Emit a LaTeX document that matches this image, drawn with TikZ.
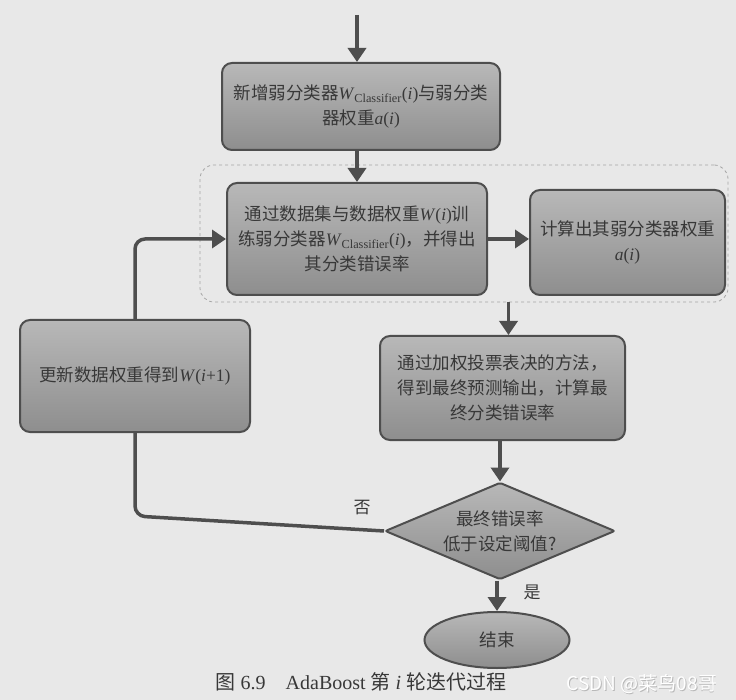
\documentclass[tikz,border=0pt]{standalone}
\usepackage{fontspec}
\setmainfont{Liberation Serif}
\newfontfamily\cjk{Noto Sans CJK SC}
\newfontfamily\wmfont{Noto Sans CJK SC}
\usetikzlibrary{shapes.geometric,arrows.meta}
\definecolor{bg}{HTML}{E8E8E8}
\definecolor{boxtop}{HTML}{B8B8B8}
\definecolor{boxbot}{HTML}{8E8E8E}
\definecolor{edge}{HTML}{4E4E4E}
\definecolor{txt}{HTML}{383838}
\newcommand{\lat}[1]{{\rmfamily #1}}
\newcommand{\Wcl}{\lat{\textit{W}\textsubscript{Classifier}(\textit{i})}}
\tikzset{
  flowbox/.style={draw=edge, line width=2pt, rounded corners=10pt,
    top color=boxtop, bottom color=boxbot, text=txt, align=center,
    inner sep=0pt, font=\cjk\fontsize{17.5}{25}\selectfont},
  flowarrow/.style={draw=edge, line width=3.5pt,
    -{Triangle[length=14pt,width=18pt]}},
  grpbox/.style={draw=gray!70, dashed, line width=0.8pt, rounded corners=14pt,
    minimum width=528pt, minimum height=137pt, inner sep=0pt},
  lbl/.style={text=txt, font=\cjk\fontsize{17}{20}\selectfont}
}
\begin{document}
\begin{tikzpicture}[x=1pt,y=-1pt]
\fill[bg] (0,0) rectangle (736,700);
\useasboundingbox (0,0) rectangle (736,700);

\node[grpbox] (grp) at (464,233.5) {};

\node[flowbox, minimum width=278pt, minimum height=87pt] (b1) at (361,106.5)
  {新增弱分类器\Wcl{}与弱分类\\器权重\lat{\textit{a}(\textit{i})}};
\node[flowbox, minimum width=260pt, minimum height=112pt] (b2) at (357,239)
  {通过数据集与数据权重\lat{\textit{W}(\textit{i})}训\\练弱分类器\Wcl，并得出\\其分类错误率};
\node[flowbox, minimum width=195pt, minimum height=105pt] (b3) at (627.5,242.5)
  {计算出其弱分类器权重\\\lat{\textit{a}(\textit{i})}};
\node[flowbox, minimum width=245pt, minimum height=104pt] (b4) at (502.5,388)
  {通过加权投票表决的方法，\\得到最终预测输出，计算最\\终分类错误率};
\node[flowbox, shape=diamond, rounded corners=2pt, aspect=2.37,
  minimum width=230pt, minimum height=97pt] (dec) at (500,531)
  {最终错误率\\低于设定阈值?};
\node[flowbox, shape=ellipse, minimum width=145pt, minimum height=56pt] (end) at (497,640)
  {结束};

\coordinate (start) at (357,15);
\coordinate (c1) at (135,516);

\draw[flowarrow] (start) -- (start |- b1.north);
\draw[flowarrow] (b2.north |- b1.south) -- (b2.north);
\draw[flowarrow] (b2.east) -- (b2.east -| b3.west);
\draw[flowarrow] ([xshift=6pt]grp.south -| b4.north) -- ([xshift=6pt]b4.north);
\draw[flowarrow] (b4.south -| dec.north) -- (dec.north);
\draw[flowarrow] (dec.south -| end.north) -- (end.north);
\draw[flowarrow, rounded corners=10pt] (dec.west) -- (c1) -- (c1 |- b2.west) -- (b2.west);

\node[flowbox, minimum width=230pt, minimum height=112pt] (b5) at (135,376)
  {更新数据权重得到\lat{\textit{W}(\textit{i}+1)}};

\node[lbl] (no) at (362,508) {否};
\node[lbl] (yes) at (532,592) {是};

\node[text=txt, font=\fontsize{20}{24}\selectfont] (cap) at (361,682)
  {{\cjk 图} 6.9\quad AdaBoost {\cjk 第} \textit{i} {\cjk 轮迭代过程}};
\node[text=gray!55, font=\wmfont\fontsize{19}{22}\selectfont] (wm2) at (642.8,684.8) {CSDN @菜鸟08哥};
\node[text=white, font=\wmfont\fontsize{19}{22}\selectfont] (wm) at (642,684) {CSDN @菜鸟08哥};
\end{tikzpicture}
\end{document}
